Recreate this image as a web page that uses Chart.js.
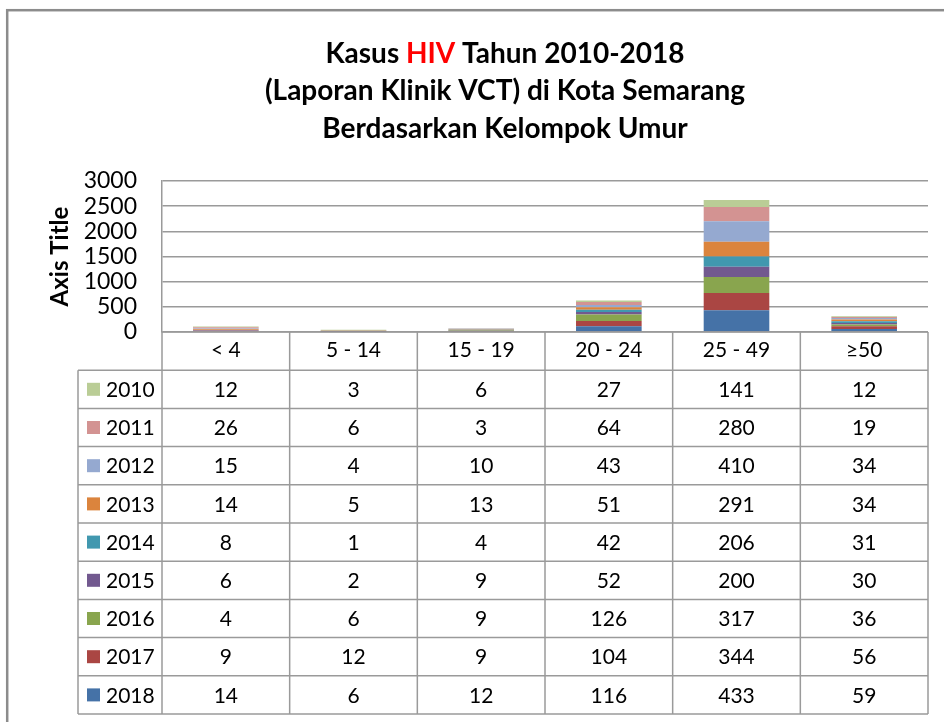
<!DOCTYPE html>
<html>
<head>
<meta charset="utf-8">
<script src="https://cdn.jsdelivr.net/npm/chart.js@4.4.1/dist/chart.umd.min.js"></script>
<style>
  html, body { margin: 0; padding: 0; background: #ffffff; }
  canvas { display: block; }
</style>
</head>
<body>
<canvas id="c" width="944" height="722"></canvas>
<script>
// ---- data ----
const categories = ['< 4', '5 - 14', '15 - 19', '20 - 24', '25 - 49', '\u226550'];
const years = ['2010', '2011', '2012', '2013', '2014', '2015', '2016', '2017', '2018'];
const v2010 = [12, 3, 6, 27, 141, 12];
const v2011 = [26, 6, 3, 64, 280, 19];
const v2012 = [15, 4, 10, 43, 410, 34];
const v2013 = [14, 5, 13, 51, 291, 34];
const v2014 = [8, 1, 4, 42, 206, 31];
const v2015 = [6, 2, 9, 52, 200, 30];
const v2016 = [4, 6, 9, 126, 317, 36];
const v2017 = [9, 12, 9, 104, 344, 56];
const v2018 = [14, 6, 12, 116, 433, 59];
const yTicks = [0, 500, 1000, 1500, 2000, 2500, 3000];
const seriesValues = [v2010, v2011, v2012, v2013, v2014, v2015, v2016, v2017, v2018];
const seriesColors = ['#BACD96', '#D39392', '#95A9D0', '#DB843D', '#4198AF', '#72598F', '#89A54E', '#AA4643', '#4572A7'];
const titleLines = [
  [['Kasus ', '#000000'], ['HIV', '#FF0000'], [' Tahun 2010-2018', '#000000']],
  [['(Laporan Klinik VCT) di Kota Semarang', '#000000']],
  [['Berdasarkan Kelompok Umur', '#000000']]
];

// ---- styling ----
const FONT = 'Lato, "Open Sans", sans-serif';
const GRID = '#9a9a9a';
const ROW_H = 38.2;
const LEGEND_LEFT = 78;

// stacking: 2018 at the bottom, 2010 on top
const datasets = [];
for (let i = years.length - 1; i >= 0; i--) {
  datasets.push({
    label: years[i],
    data: seriesValues[i],
    backgroundColor: seriesColors[i],
    borderWidth: 0
  });
}

const frameAndTitle = {
  id: 'frameAndTitle',
  beforeDraw(chart) {
    const ctx = chart.ctx;
    ctx.save();
    ctx.fillStyle = '#ffffff';
    ctx.fillRect(0, 0, chart.width, chart.height);
    ctx.strokeStyle = '#8c8c8c';
    ctx.lineWidth = 2.5;
    ctx.strokeRect(7.2, 10.2, 1100, 900);
    ctx.restore();
  },
  afterDraw(chart) {
    const ctx = chart.ctx;
    ctx.save();
    ctx.font = 'bold 28px ' + FONT;
    ctx.textBaseline = 'alphabetic';
    ctx.textAlign = 'left';
    const cx = 505;
    const baselines = [63, 100, 138];
    titleLines.forEach((parts, li) => {
      let total = 0;
      parts.forEach(p => total += ctx.measureText(p[0]).width);
      let x = cx - total / 2;
      parts.forEach(p => {
        ctx.fillStyle = p[1];
        ctx.fillText(p[0], x, baselines[li]);
        x += ctx.measureText(p[0]).width;
      });
    });
    ctx.restore();
  }
};

const dataTable = {
  id: 'dataTable',
  afterDraw(chart) {
    const ctx = chart.ctx;
    const xs = chart.scales.x;
    const top = chart.chartArea.bottom;
    const n = categories.length;
    const colW = (xs.right - xs.left) / n;
    const left = xs.left;
    const right = xs.right;
    const bottom = top + ROW_H * (years.length + 1);
    ctx.save();
    ctx.strokeStyle = GRID;
    ctx.lineWidth = 1.5;
    ctx.beginPath();
    for (let i = 0; i <= n; i++) {
      const x = left + i * colW;
      ctx.moveTo(x, top);
      ctx.lineTo(x, bottom);
    }
    ctx.moveTo(LEGEND_LEFT, top + ROW_H);
    ctx.lineTo(LEGEND_LEFT, bottom);
    ctx.moveTo(left, top);
    ctx.lineTo(right, top);
    for (let k = 1; k <= years.length + 1; k++) {
      const y = top + k * ROW_H;
      ctx.moveTo(LEGEND_LEFT, y);
      ctx.lineTo(right, y);
    }
    ctx.stroke();

    ctx.font = '21px ' + FONT;
    ctx.textBaseline = 'middle';
    years.forEach((yr, r) => {
      const yc = top + ROW_H * (r + 1) + ROW_H / 2 + 1;
      ctx.fillStyle = seriesColors[r];
      ctx.fillRect(87, yc - 7.5, 13, 13);
      ctx.fillStyle = '#000000';
      ctx.textAlign = 'left';
      ctx.fillText(yr, 106, yc);
      ctx.textAlign = 'center';
      seriesValues[r].forEach((v, c) => {
        ctx.fillText(String(v), xs.getPixelForValue(c), yc);
      });
    });
    ctx.restore();
  }
};

new Chart(document.getElementById('c'), {
  type: 'bar',
  data: { labels: categories, datasets: datasets },
  options: {
    responsive: false,
    devicePixelRatio: 1,
    animation: false,
    layout: { padding: { left: 0, top: 181, right: 16, bottom: 0 } },
    plugins: {
      legend: { display: false },
      title: { display: false },
      tooltip: { enabled: false }
    },
    datasets: { bar: { barPercentage: 0.514, categoryPercentage: 1.0 } },
    scales: {
      x: {
        stacked: true,
        grid: { display: false, drawTicks: false },
        border: { display: false },
        ticks: { color: '#000000', font: { family: FONT, size: 21 }, padding: 6, maxRotation: 0, autoSkip: false },
        afterFit(scale) { scale.height = 390; }
      },
      y: {
        stacked: true,
        min: 0,
        max: 3000,
        afterBuildTicks(scale) { scale.ticks = yTicks.map(v => ({ value: v })); },
        grid: { color: GRID, lineWidth: 1.5, drawTicks: false },
        border: { display: true, color: GRID, width: 1.5 },
        ticks: {
          color: '#000000',
          font: { family: FONT, size: 23 },
          padding: 25,
          autoSkip: false,
          callback: (v) => String(v)
        },
        title: { display: true, text: 'Axis Title', color: '#000000', font: { family: FONT, size: 24, weight: 'bold' }, padding: { top: 46, bottom: 0 } },
        afterFit(scale) { scale.width = 162; }
      }
    }
  },
  plugins: [frameAndTitle, dataTable]
});
</script>
</body>
</html>
